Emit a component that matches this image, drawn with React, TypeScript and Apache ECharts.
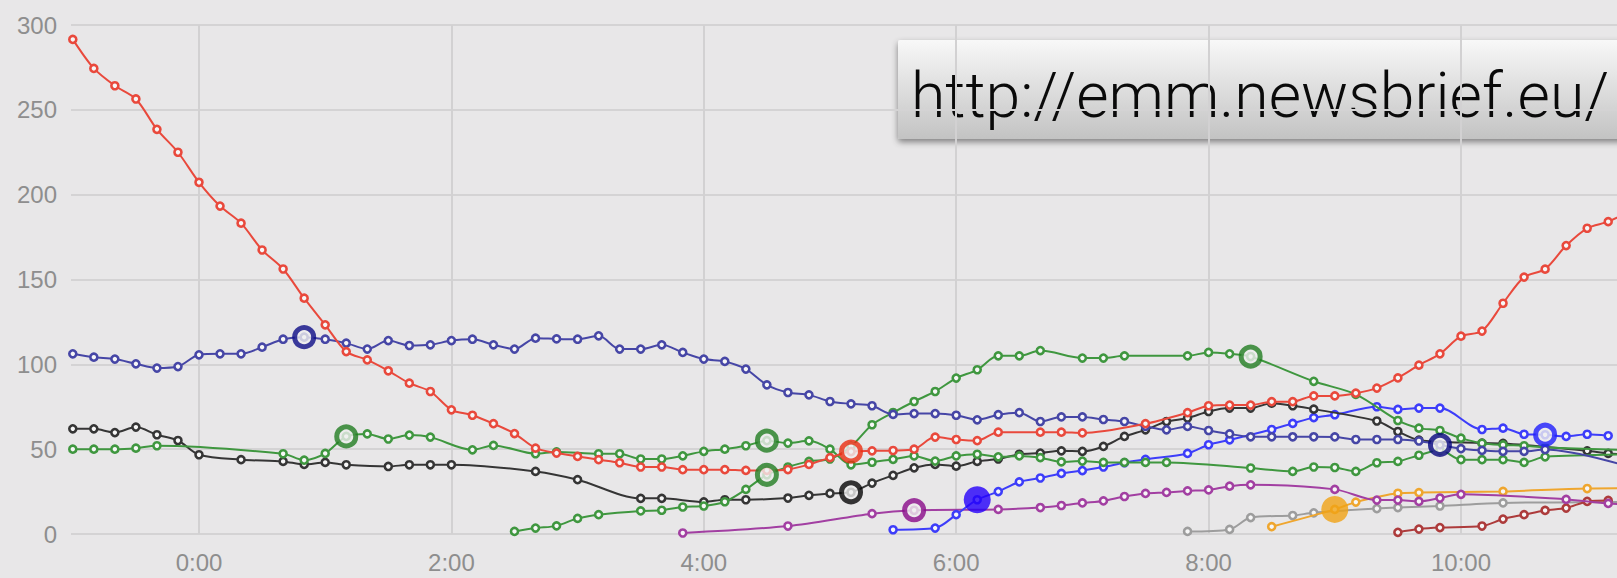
import React, { useEffect, useRef } from "react";
import * as echarts from "echarts";

type P = [number, number];

// x = minutes after 0:00, y = count
const TIME_TICKS = [0, 120, 240, 360, 480, 600];
const Y_TICK_STEP = 50;
const Y_MAX = 300;

const RED: P[] = [
  [-60, 291.5], [-50, 274.4], [-40, 264.2], [-30, 256.4], [-20, 238.5], [-10, 225], [0, 207.3], [10, 193.3],
  [20, 183.2], [30, 167.4], [40, 156.2], [50, 139], [60, 123.3], [70, 107.5], [80, 102.6], [90, 96.2],
  [100, 88.9], [110, 84], [120, 73.2], [130, 70], [140, 65], [150, 59.2], [160, 50.6], [170, 47.7],
  [180, 45.7], [190, 43.8], [200, 42], [210, 39.5], [220, 39.5], [230, 37.9], [240, 37.9], [250, 37.9],
  [260, 37.5], [270, 37.5], [280, 38], [290, 41], [300, 45], [310, 48.6], [320, 49], [330, 49.2],
  [340, 50], [350, 57.1], [360, 55.7], [370, 55], [380, 60], [400, 60], [410, 60], [420, 59.6],
  [450, 65], [470, 71.5], [480, 75.6], [490, 76], [500, 76], [510, 78], [520, 78], [530, 81.4],
  [540, 81.4], [550, 83], [560, 86], [570, 92], [580, 99.5], [590, 106.2], [600, 116.6], [610, 119.6],
  [620, 136], [630, 151.4], [640, 156.1], [650, 170], [660, 180.2], [670, 184.1], [680, 190],
];

const NAVY: P[] = [
  [-60, 106.2], [-50, 104.2], [-40, 103.1], [-30, 100.3], [-20, 97.8], [-10, 98.7], [0, 105.6], [10, 106.2],
  [20, 106.2], [30, 110.1], [40, 114.8], [50, 116], [60, 114.8], [70, 112.5], [80, 109], [90, 114],
  [100, 111.1], [110, 111.5], [120, 114], [130, 114.8], [140, 111.5], [150, 109], [160, 115.4], [170, 115],
  [180, 114.8], [190, 116.8], [200, 109], [210, 109], [220, 111.5], [230, 107], [240, 103.1], [250, 101.7],
  [260, 97.2], [270, 87.9], [280, 83.4], [290, 82], [300, 78.1], [310, 76.7], [320, 75.6], [330, 70.5],
  [340, 71], [350, 71], [360, 70], [370, 67.3], [380, 70.3], [390, 71.5], [400, 66.3], [410, 69],
  [420, 69], [430, 67.5], [440, 66.3], [450, 63.4], [460, 61.4], [470, 63.4], [480, 61], [490, 59],
  [500, 57.3], [510, 57.3], [520, 57.3], [530, 57.3], [540, 57.2], [550, 55.7], [560, 55.7], [570, 55.7],
  [580, 54.8], [590, 52.5], [600, 50.3], [610, 49.3], [620, 48.7], [630, 48.7], [640, 49.8], [690, 36],
];

const BLACK: P[] = [
  [-60, 62], [-50, 62], [-40, 59.8], [-30, 63], [-20, 58.5], [-10, 55.1], [0, 46.7], [20, 43.8],
  [40, 42.8], [50, 41], [60, 42.2], [70, 40.8], [90, 39.8], [100, 40.8], [110, 40.8], [120, 40.8],
  [160, 36.9], [180, 32], [210, 21], [220, 21], [240, 18.9], [250, 20.2], [260, 20.2], [280, 21.2],
  [290, 22.8], [300, 23.9], [310, 24.6], [320, 30], [330, 34.6], [340, 39], [350, 41], [360, 40],
  [370, 42.8], [380, 44.2], [390, 47], [400, 47.7], [410, 49], [420, 48.7], [430, 51.6], [440, 57.5],
  [450, 61.4], [460, 66.3], [470, 68.3], [480, 72.2], [490, 74.2], [500, 74.2], [510, 77.1], [520, 75.6],
  [530, 73.6], [560, 66.6], [570, 60.4], [580, 55.3], [610, 53.6], [620, 53.4], [660, 49], [670, 47.5],
  [690, 46],
];

const GREEN_A: P[] = [
  [-60, 50], [-50, 50], [-40, 50], [-30, 50.6], [-20, 52], [40, 47.3], [50, 43.5], [60, 47.5],
  [70, 57.5], [80, 59], [90, 56], [100, 58.3], [110, 57.1], [130, 49.6], [140, 52.2], [160, 47.3],
  [170, 48.4], [190, 47.3], [200, 47.3], [210, 44.2], [220, 44.2], [230, 46.1], [240, 48.7], [250, 50],
  [260, 52], [270, 55], [280, 53.6], [290, 54.9], [300, 50], [310, 40.8], [320, 42.3], [330, 44],
  [340, 46], [350, 43], [360, 46], [370, 47], [380, 45.5], [390, 46], [400, 45], [410, 42.5],
  [420, 43], [430, 42.2], [440, 42.2], [450, 42.2], [460, 42.2], [500, 38.9], [520, 36.9], [530, 39.5],
  [540, 39.2], [550, 36.9], [560, 42], [570, 42.8], [580, 46.4], [590, 49.5], [600, 43.8], [610, 43.8],
  [620, 43.8], [630, 42.2], [640, 45.5], [690, 47],
];

const GREEN_B: P[] = [
  [150, 1.5], [160, 3.5], [170, 4.8], [180, 9.2], [190, 11.4], [210, 13.6], [220, 14], [230, 15.9],
  [240, 16.5], [250, 19], [260, 26.3], [270, 34.9], [280, 39.5], [290, 42.8], [300, 44.2], [310, 51.6],
  [320, 64.4], [330, 71.6], [340, 78.1], [350, 84], [360, 91.9], [370, 96.8], [380, 105], [390, 105],
  [400, 108.1], [420, 103.7], [430, 103.7], [440, 105], [470, 105], [480, 107], [490, 106.2], [500, 104.6],
  [530, 90], [550, 82.3], [570, 66.9], [580, 62.4], [590, 61], [600, 56.5], [610, 53.5], [620, 52.5],
  [630, 52], [640, 51], [690, 49],
];

const PURPLE: P[] = [
  [230, 0.6], [280, 4.7], [320, 12], [340, 14], [380, 14.5], [400, 15.6], [410, 16.8], [420, 18.3],
  [430, 19.5], [440, 22.1], [450, 23.9], [460, 24.5], [470, 25.4], [480, 26], [490, 28.2], [500, 29],
  [540, 26.3], [560, 20], [570, 20], [580, 19.2], [590, 21.2], [600, 23.4], [650, 20.4], [670, 18],
  [690, 17],
];

const BRIGHT: P[] = [
  [330, 2.5], [350, 3.5], [360, 11.4], [370, 20.2], [380, 25], [390, 30.7], [400, 33], [410, 35.7],
  [420, 37.4], [430, 39.5], [440, 42], [450, 44], [470, 47.5], [480, 52.6], [490, 55.5], [510, 61.6],
  [520, 65.2], [530, 68.6], [540, 70.3], [560, 75], [570, 73.4], [580, 74.2], [590, 74.2], [610, 61.6],
  [620, 62.4], [630, 58.8], [640, 58.5], [650, 57.5], [660, 58.8], [670, 57.9],
];

const GRAY: P[] = [
  [470, 1.5], [490, 2.7], [500, 9.7], [520, 10.9], [530, 12.5], [560, 15], [570, 15.6], [590, 16.5],
  [620, 18.3], [690, 19],
];

const ORANGE: P[] = [
  [510, 4.3], [540, 14.5], [550, 18.8], [570, 24], [580, 24.4], [620, 25.1], [660, 26.8], [690, 27],
];

const MAROON: P[] = [
  [570, 1], [580, 2.9], [590, 3.8], [610, 4.7], [620, 8.8], [630, 11.4], [640, 13.9], [650, 15.3],
  [660, 19.2], [670, 19.8],
];

const SERIES = [
  { name: "gray", data: GRAY, color: "#9d9d9d" },
  { name: "maroon", data: MAROON, color: "#ad3b3b" },
  { name: "orange", data: ORANGE, color: "#efa62e" },
  { name: "purple", data: PURPLE, color: "#a23fa2" },
  { name: "bright", data: BRIGHT, color: "#3d3dfa" },
  { name: "black", data: BLACK, color: "#353535" },
  { name: "greenB", data: GREEN_B, color: "#3f973f" },
  { name: "greenA", data: GREEN_A, color: "#3f973f" },
  { name: "navy", data: NAVY, color: "#4646a6" },
  { name: "red", data: RED, color: "#e9493c" },
];

const HIGHLIGHTS = [
  { series: "navy", t: 50, kind: "ring", color: "#0c0c86" },
  { series: "greenA", t: 70, kind: "ring", color: "#217d21" },
  { series: "greenA", t: 270, kind: "ring", color: "#217d21" },
  { series: "greenB", t: 270, kind: "ring", color: "#217d21" },
  { series: "red", t: 310, kind: "ring", color: "#ea2e10" },
  { series: "black", t: 310, kind: "ring", color: "#050505" },
  { series: "purple", t: 340, kind: "ring", color: "#880a88" },
  { series: "bright", t: 370, kind: "dot", color: "#2400fa" },
  { series: "greenB", t: 500, kind: "ring", color: "#217d21" },
  { series: "orange", t: 540, kind: "dot", color: "#f0a214" },
  { series: "navy", t: 590, kind: "ring", color: "#06067e" },
  { series: "bright", t: 640, kind: "ring", color: "#1e1efc" },
];

const ANNOTATION = "http://emm.newsbrief.eu/";

const BG = "#e8e7e8";
const W = 1617;
const H = 578;
const GRID_LEFT = 71;
const GRID_TOP = 25;
const GRID_BOTTOM = 44;
const PX_PER_MIN = 2.1033;
const ZERO_X = 199;

export default function App() {
  const ref = useRef<HTMLDivElement>(null);

  useEffect(() => {
    if (!ref.current) return;
    const chart = echarts.init(ref.current, null, { renderer: "svg", width: W, height: H });
    const xMin = (GRID_LEFT - ZERO_X) / PX_PER_MIN;
    const xMax = (W - ZERO_X) / PX_PER_MIN;
    const byName: Record<string, P[]> = {};
    SERIES.forEach((s) => (byName[s.name] = s.data));

    const lineSeries = SERIES.map((s, i) => ({
      type: "line",
      name: s.name,
      data: s.data,
      z: 2 + i * 0.01,
      smooth: 0.3,
      clip: true,
      silent: true,
      symbol: "circle",
      symbolSize: 7,
      lineStyle: { color: s.color, width: 2 },
      itemStyle: { color: "#f7f7f7", borderColor: s.color, borderWidth: 2.6 },
      emphasis: { disabled: true },
    }));

    const hlData = HIGHLIGHTS.map((h) => {
      const p = byName[h.series].find((d) => d[0] === h.t);
      const ring = h.kind === "ring";
      return {
        value: [h.t, p ? p[1] : 0],
        symbolSize: ring ? 19 : 27,
        itemStyle: ring
          ? { color: "#eeeeee", borderColor: h.color, borderWidth: 5 }
          : { color: h.color, borderWidth: 0 },
      };
    });

    chart.setOption({
      animation: false,
      backgroundColor: BG,
      grid: { left: GRID_LEFT, right: 0, top: GRID_TOP, bottom: GRID_BOTTOM, containLabel: false },
      xAxis: {
        type: "value",
        min: xMin,
        max: xMax,
        axisLine: { show: false },
        axisTick: { show: false, customValues: TIME_TICKS },
        axisLabel: {
          customValues: TIME_TICKS,
          formatter: (v: number) => `${Math.round(v / 60)}:00`,
          color: "#8e8e8e",
          fontSize: 24,
          fontFamily: "Liberation Sans",
          margin: 16,
        },
        splitLine: { show: true, lineStyle: { color: "#d2d1d2", width: 2 } },
      },
      yAxis: {
        type: "value",
        min: 0,
        max: Y_MAX,
        interval: Y_TICK_STEP,
        axisLine: { show: false },
        axisTick: { show: false },
        axisLabel: {
          color: "#8e8e8e",
          fontSize: 24,
          fontFamily: "Liberation Sans",
          margin: 14,
        },
        splitLine: { show: true, lineStyle: { color: "#d4d3d4", width: 2 } },
      },
      series: [
        ...lineSeries,
        {
          type: "scatter",
          name: "highlights",
          data: hlData,
          z: 5,
          silent: true,
          emphasis: { disabled: true },
        },
      ],
      graphic: [
        {
          type: "group",
          z: 100,
          children: [
            {
              type: "rect",
              shape: { x: 898, y: 40, width: 760, height: 99, r: 2 },
              style: {
                fill: new echarts.graphic.LinearGradient(0, 0, 0, 1, [
                  { offset: 0, color: "#f8f8f8" },
                  { offset: 1, color: "#c3c3c3" },
                ]),
                shadowBlur: 6,
                shadowOffsetX: 0,
                shadowOffsetY: 3,
                shadowColor: "rgba(0,0,0,0.45)",
              },
            },
            {
              type: "text",
              x: 911,
              y: 95,
              style: {
                text: ANNOTATION,
                fill: "#0a0a0a",
                fontSize: 62.5,
                fontFamily: "Roboto",
                fontWeight: 300,
                verticalAlign: "middle",
                align: "left",
              },
            },
          ],
        },
      ],
    });
    return () => chart.dispose();
  }, []);

  return (
    <div
      ref={ref}
      style={{ position: "absolute", left: 0, top: 0, width: W, height: H, background: BG }}
    />
  );
}
